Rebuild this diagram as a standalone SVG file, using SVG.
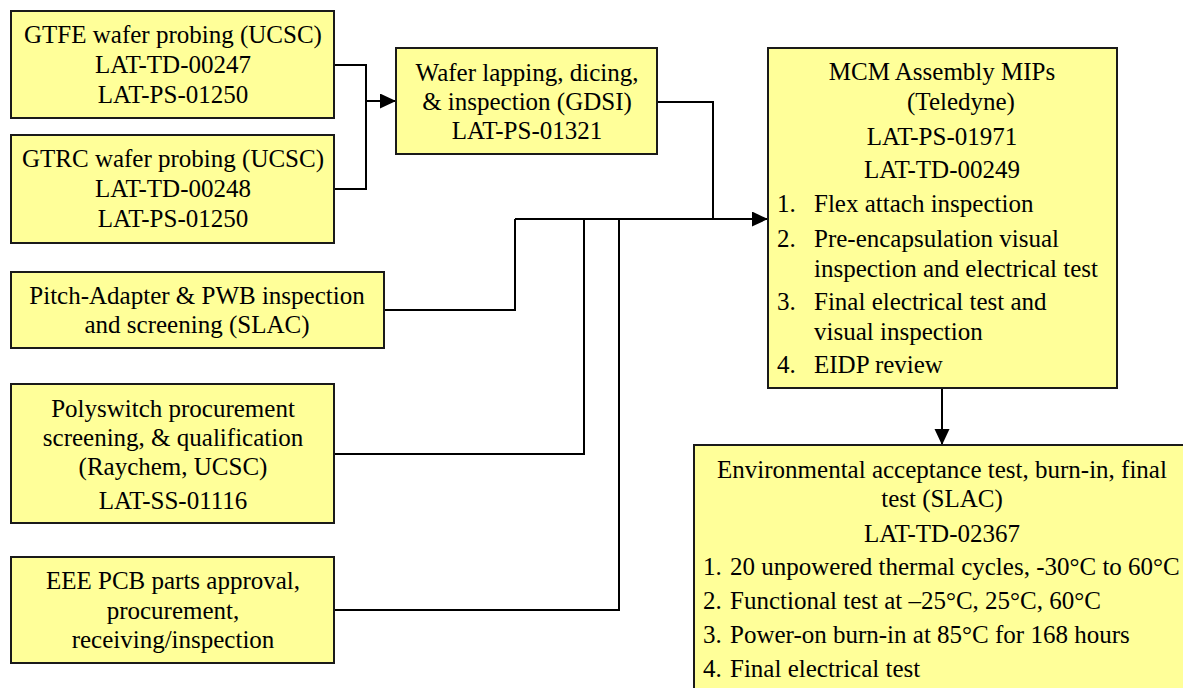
<svg xmlns="http://www.w3.org/2000/svg" width="1183" height="688" viewBox="0 0 1183 688">
<style>
.box{fill:#ffff99;stroke:#1a1a1a;stroke-width:2}
text{font-family:'Liberation Serif','Times New Roman',serif;font-size:25px;fill:#000}
.c{text-anchor:middle}
.ln{fill:none;stroke:#000;stroke-width:2}
</style>
<defs>
<marker id="ah" markerUnits="userSpaceOnUse" markerWidth="17" markerHeight="16" refX="16" refY="7.5" orient="auto">
<path d="M0,0 L16,7.5 L0,15 z" fill="#000"/>
</marker>
</defs>
<rect width="1183" height="688" fill="#fff"/>
<g id="connectors">
<polyline class="ln" points="334,65 366,65 366,189 334,189"/>
<line class="ln" x1="366" y1="101" x2="396" y2="101" marker-end="url(#ah)"/>
<polyline class="ln" points="657,102 713,102 713,219"/>
<polyline class="ln" points="384,310 515,310 515,219"/>
<polyline class="ln" points="334,454 584,454 584,219"/>
<polyline class="ln" points="334,610 619,610 619,219"/>
<line class="ln" x1="515" y1="219" x2="768" y2="219" marker-end="url(#ah)"/>
<line class="ln" x1="942" y1="388" x2="942" y2="445" marker-end="url(#ah)"/>
</g>
<g id="gtfe">
<rect class="box" x="11" y="11" width="323" height="107"/>
<text class="c" x="173" y="43">GTFE wafer probing (UCSC)</text>
<text class="c" x="173" y="73">LAT-TD-00247</text>
<text class="c" x="173" y="103">LAT-PS-01250</text>
</g>
<g id="gtrc">
<rect class="box" x="11" y="135" width="323" height="108"/>
<text class="c" x="173" y="167">GTRC wafer probing (UCSC)</text>
<text class="c" x="173" y="197">LAT-TD-00248</text>
<text class="c" x="173" y="227">LAT-PS-01250</text>
</g>
<g id="wafer">
<rect class="box" x="396" y="48" width="261" height="106"/>
<text class="c" x="527" y="81">Wafer lapping, dicing,</text>
<text class="c" x="527" y="110">&amp; inspection (GDSI)</text>
<text class="c" x="527" y="139">LAT-PS-01321</text>
</g>
<g id="pitch">
<rect class="box" x="11" y="272" width="373" height="76"/>
<text class="c" x="197" y="304">Pitch-Adapter &amp; PWB inspection</text>
<text class="c" x="197" y="333">and screening (SLAC)</text>
</g>
<g id="poly">
<rect class="box" x="11" y="384" width="323" height="139"/>
<text class="c" x="173" y="417">Polyswitch procurement</text>
<text class="c" x="173" y="446">screening, &amp; qualification</text>
<text class="c" x="173" y="475">(Raychem, UCSC)</text>
<text class="c" x="173" y="509">LAT-SS-01116</text>
</g>
<g id="eee">
<rect class="box" x="11" y="557" width="323" height="106"/>
<text class="c" x="173" y="589">EEE PCB parts approval,</text>
<text class="c" x="173" y="619">procurement,</text>
<text class="c" x="173" y="648">receiving/inspection</text>
</g>
<g id="mcm">
<rect class="box" x="768" y="48" width="349" height="340"/>
<text class="c" x="942" y="80">MCM Assembly MIPs</text>
<text class="c" x="961" y="110">(Teledyne)</text>
<text class="c" x="942" y="145">LAT-PS-01971</text>
<text class="c" x="942" y="178">LAT-TD-00249</text>
<text x="777" y="212">1.</text>
<text x="814" y="212">Flex attach inspection</text>
<text x="777" y="247">2.</text>
<text x="814" y="247">Pre-encapsulation visual</text>
<text x="814" y="277">inspection and electrical test</text>
<text x="777" y="310">3.</text>
<text x="814" y="310">Final electrical test and</text>
<text x="814" y="340">visual inspection</text>
<text x="777" y="373">4.</text>
<text x="814" y="373">EIDP review</text>
</g>
<g id="env">
<rect class="box" x="694" y="445" width="496" height="260"/>
<text class="c" x="942" y="478">Environmental acceptance test, burn-in, final</text>
<text class="c" x="942" y="507">test (SLAC)</text>
<text class="c" x="942" y="542">LAT-TD-02367</text>
<text x="703" y="575">1.</text>
<text x="730" y="575">20 unpowered thermal cycles, -30°C to 60°C</text>
<text x="703" y="609">2.</text>
<text x="730" y="609">Functional test at –25°C, 25°C, 60°C</text>
<text x="703" y="643">3.</text>
<text x="730" y="643">Power-on burn-in at 85°C for 168 hours</text>
<text x="703" y="677">4.</text>
<text x="730" y="677">Final electrical test</text>
</g>
</svg>
